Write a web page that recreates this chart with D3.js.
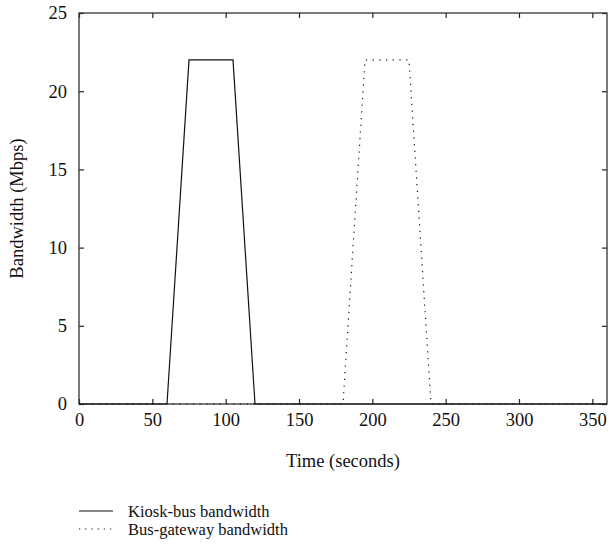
<!DOCTYPE html>
<html>
<head>
  <meta charset="utf-8">
  <title>Bandwidth over time</title>
  <style>
    body { margin: 0; background: #fff; }
    text { font-family: "Liberation Serif", "DejaVu Serif", serif; fill: #111; }
  </style>
</head>
<body>
  <svg width="609" height="544"></svg>
  <script src="https://cdn.jsdelivr.net/npm/d3@7/dist/d3.min.js"></script>
  <script>
  // data
  var kioskTime = [0, 60, 75, 105, 120, 360];
  var kioskBw   = [0, 0, 22, 22, 0, 0];
  var gatewayTime = [0, 180, 195, 225, 240, 360];
  var gatewayBw   = [0, 0, 22, 22, 0, 0];
  var xTicks = [0, 50, 100, 150, 200, 250, 300, 350];
  var yTicks = [0, 5, 10, 15, 20, 25];
  var seriesNames = ["Kiosk-bus bandwidth", "Bus-gateway bandwidth"];

  var svg = d3.select("svg");
  var m = { left: 79, right: 607, top: 13, bottom: 404 };

  var x = d3.scaleLinear().domain([0, 360]).range([m.left, m.right]);
  var y = d3.scaleLinear().domain([0, 25]).range([m.bottom, m.top]);

  // axes with inward ticks on all four sides
  var fs = "18.5px";
  svg.append("g").attr("transform", "translate(0," + m.bottom + ")")
    .call(d3.axisBottom(x).tickValues(xTicks).tickSize(-5).tickPadding(9))
    .call(function(g) { g.select(".domain").remove(); })
    .selectAll("text").style("font-size", fs);
  svg.append("g").attr("transform", "translate(0," + m.top + ")")
    .call(d3.axisTop(x).tickValues(xTicks).tickSize(-5).tickFormat(""))
    .call(function(g) { g.select(".domain").remove(); });
  svg.append("g").attr("transform", "translate(" + m.left + ",0)")
    .call(d3.axisLeft(y).tickValues(yTicks).tickSize(-5).tickPadding(12))
    .call(function(g) { g.select(".domain").remove(); })
    .selectAll("text").style("font-size", fs);
  svg.append("g").attr("transform", "translate(" + m.right + ",0)")
    .call(d3.axisRight(y).tickValues(yTicks).tickSize(-5).tickFormat(""))
    .call(function(g) { g.select(".domain").remove(); });
  svg.selectAll(".tick line").attr("stroke", "#222").attr("stroke-width", 1.2);

  svg.append("rect")
    .attr("x", m.left).attr("y", m.top)
    .attr("width", m.right - m.left).attr("height", m.bottom - m.top)
    .attr("fill", "none").attr("stroke", "#333").attr("stroke-width", 1.3);

  var line = d3.line()
    .x(function(d) { return x(d[0]); })
    .y(function(d) { return y(d[1]); });

  svg.append("path")
    .datum(d3.zip(kioskTime, kioskBw))
    .attr("d", line)
    .attr("fill", "none").attr("stroke", "#111").attr("stroke-width", 1.2);

  svg.append("path")
    .datum(d3.zip(gatewayTime, gatewayBw))
    .attr("d", line)
    .attr("fill", "none").attr("stroke", "#111").attr("stroke-width", 1.2)
    .attr("stroke-dasharray", "1.2,5.5");

  // axis labels
  svg.append("text")
    .attr("x", (m.left + m.right) / 2).attr("y", 461).attr("dy", "0.35em")
    .attr("text-anchor", "middle").style("font-size", fs)
    .text("Time (seconds)");
  svg.append("text")
    .attr("transform", "translate(17," + (m.top + m.bottom) / 2 + ") rotate(-90)")
    .attr("text-anchor", "middle").attr("dy", "0.35em").style("font-size", fs)
    .text("Bandwidth (Mbps)");

  // legend
  var legend = svg.append("g");
  seriesNames.forEach(function(name, i) {
    var ly = 511 + i * 18;
    legend.append("line")
      .attr("x1", 79).attr("x2", 113).attr("y1", ly).attr("y2", ly)
      .attr("stroke", "#111").attr("stroke-width", 1.2)
      .attr("stroke-dasharray", i === 1 ? "1.2,5" : null);
    legend.append("text")
      .attr("x", 128).attr("y", ly).attr("dy", "0.35em")
      .style("font-size", "16.5px")
      .text(name);
  });
  </script>
</body>
</html>
